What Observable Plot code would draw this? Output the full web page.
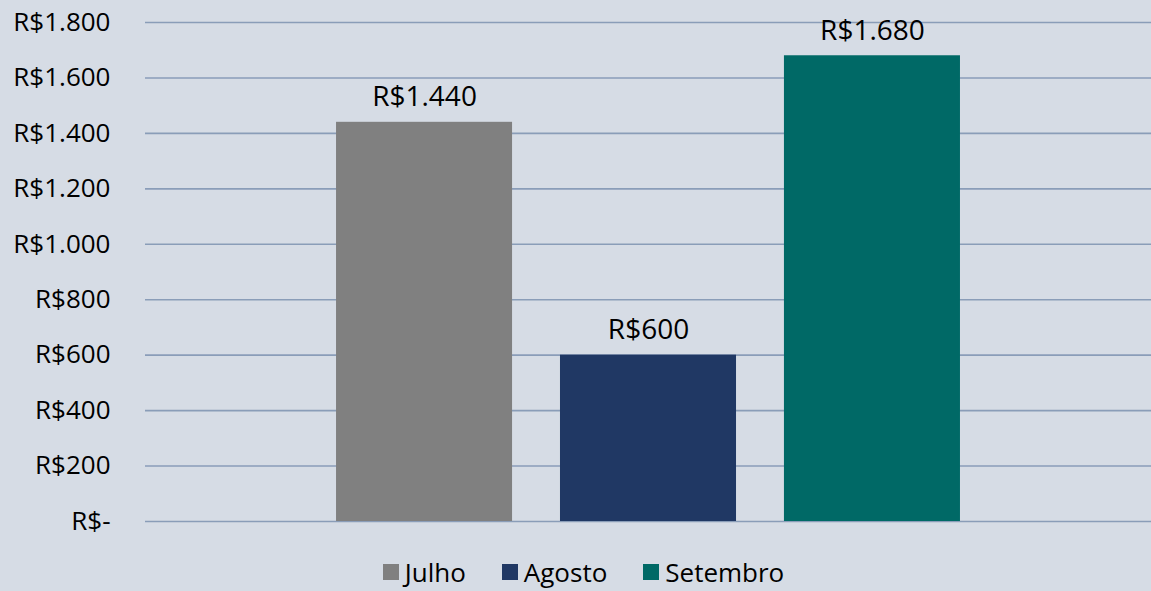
<!DOCTYPE html>
<html>
<head>
<meta charset="utf-8">
<script src="https://cdn.jsdelivr.net/npm/d3@7"></script>
<script src="https://cdn.jsdelivr.net/npm/@observablehq/plot@0.6"></script>
<style>
  html, body { margin: 0; padding: 0; background: #D6DCE5; overflow: hidden; }
  #chart svg { display: block; }
  #legend { display: flex; justify-content: center; align-items: center; height: 34px; margin-top: 0px;
    font-family: "Open Sans", sans-serif; font-size: 26px; line-height: 30px; color: #000; padding-left: 16px; }
  .item { display: flex; align-items: center; margin: 0 18px; }
  .sw { width: 16px; height: 16px; margin-right: 6px; }
</style>
</head>
<body>
<div id="chart"></div>
<div id="legend"></div>
<script>
const months = ["Julho", "Agosto", "Setembro"];
const values = [1440, 600, 1680];
const colors = ["#808080", "#203864", "#006966"];
const yTicks = [0, 200, 400, 600, 800, 1000, 1200, 1400, 1600, 1800];

const data = months.map((m, i) => ({month: m, value: values[i]}));
const fmt = d => d === 0 ? "R$-" : "R$" + String(d).replace(/\B(?=(\d{3})+(?!\d))/g, ".");

const chart = Plot.plot({
  width: 1151,
  height: 555,
  marginLeft: 145,
  marginRight: 0,
  marginTop: 22,
  marginBottom: 34,
  style: {fontFamily: "Open Sans, sans-serif", fontSize: "26px", background: "#D6DCE5", color: "#000"},
  x: {domain: months, paddingInner: 0.214, paddingOuter: 0.853, round: false, axis: null},
  y: {domain: [0, 1800], ticks: yTicks, tickFormat: fmt, tickSize: 0, tickPadding: 35, label: null},
  color: {domain: months, range: colors},
  marks: [
    Plot.ruleY(yTicks, {stroke: "#8A9DB8", strokeWidth: 1.6}),
    Plot.barY(data, {x: "month", y: "value", fill: "month"}),
    Plot.text(data, {x: "month", y: "value", text: d => fmt(d.value), dy: -25, fontSize: 28, fill: "#000"})
  ]
});
document.getElementById("chart").appendChild(chart);

const legend = document.getElementById("legend");
months.forEach((m, i) => {
  const it = document.createElement("div");
  it.className = "item";
  const sw = document.createElement("div");
  sw.className = "sw";
  sw.style.background = colors[i];
  const tx = document.createElement("span");
  tx.textContent = m;
  it.appendChild(sw); it.appendChild(tx);
  legend.appendChild(it);
});
</script>
</body>
</html>
